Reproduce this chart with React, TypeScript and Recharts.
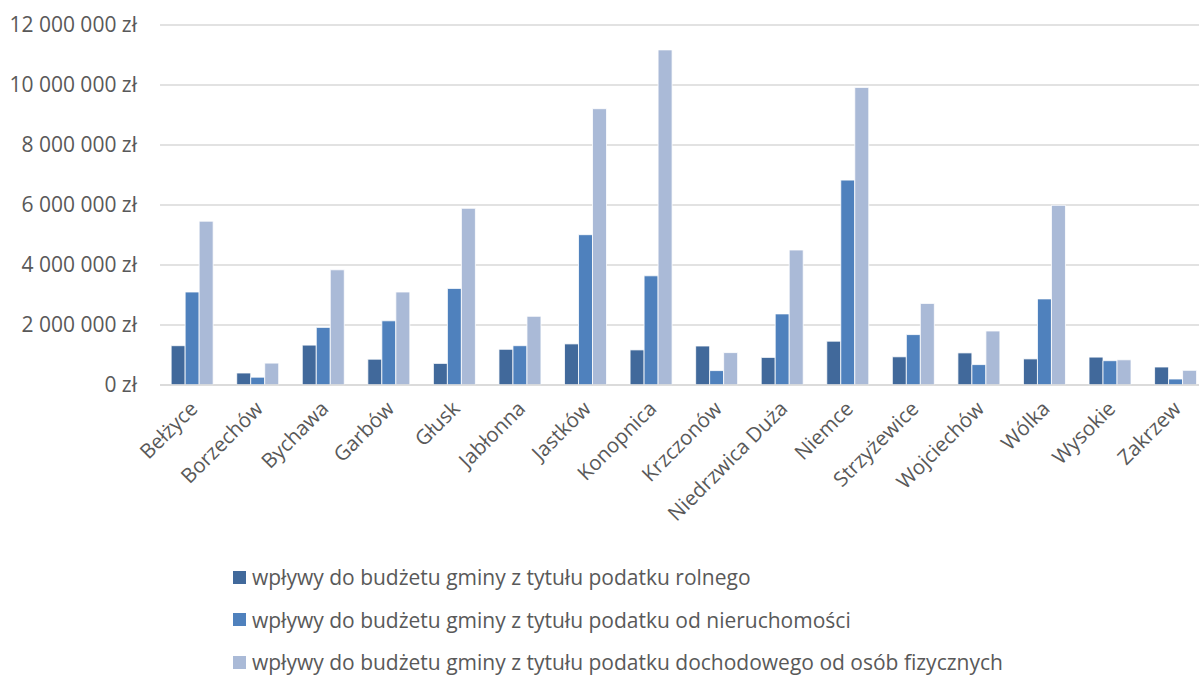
import React from 'react';
import { BarChart, Bar, XAxis, YAxis, CartesianGrid } from 'recharts';

const gminy = [
  'Bełżyce', 'Borzechów', 'Bychawa', 'Garbów', 'Głusk', 'Jabłonna', 'Jastków', 'Konopnica',
  'Krzczonów', 'Niedrzwica Duża', 'Niemce', 'Strzyżewice', 'Wojciechów', 'Wólka', 'Wysokie', 'Zakrzew',
];

const rolny = [
  1310000, 400000, 1330000, 860000, 720000, 1190000, 1370000, 1170000,
  1300000, 920000, 1460000, 940000, 1070000, 870000, 930000, 600000,
];

const nieruchomosci = [
  3100000, 260000, 1920000, 2140000, 3220000, 1310000, 5010000, 3640000,
  480000, 2370000, 6830000, 1680000, 680000, 2870000, 810000, 200000,
];

const dochodowy = [
  5460000, 730000, 3840000, 3100000, 5890000, 2290000, 9210000, 11170000,
  1080000, 4500000, 9920000, 2720000, 1800000, 5990000, 840000, 490000,
];

const yTicks = [0, 2000000, 4000000, 6000000, 8000000, 10000000, 12000000];

const series = [
  { key: 'rolny', name: 'wpływy do budżetu gminy z tytułu podatku rolnego', color: '#41699B' },
  { key: 'nieruchomosci', name: 'wpływy do budżetu gminy z tytułu podatku od nieruchomości', color: '#4F81BD' },
  { key: 'dochodowy', name: 'wpływy do budżetu gminy z tytułu podatku dochodowego od osób fizycznych', color: '#AABAD7' },
];

const data = gminy.map((name, i) => ({
  name,
  rolny: rolny[i],
  nieruchomosci: nieruchomosci[i],
  dochodowy: dochodowy[i],
}));

const FONT = '"Open Sans", Lato, sans-serif';
const TEXT = '#595959';

const formatZl = (v: number) =>
  v.toString().replace(/\B(?=(\d{3})+(?!\d))/g, ' ') + ' zł';

const CategoryTick = (props: any) => {
  const { x, y, payload } = props;
  const ax = x + 6;
  const ay = y + 17;
  return (
    <text
      x={ax}
      y={ay}
      transform={`rotate(-45, ${ax}, ${ay})`}
      textAnchor="end"
      fill={TEXT}
      fontSize={20.5}
      fontFamily={FONT}
    >
      {payload.value}
    </text>
  );
};

export default function App() {
  return (
    <div
      style={{
        position: 'absolute',
        left: 0,
        top: 0,
        width: 1199,
        height: 677,
        overflow: 'hidden',
        background: '#fff',
      }}
    >
      <BarChart
        width={1215}
        height={677}
        data={data}
        margin={{ top: 25, right: 6, bottom: 0, left: 0 }}
        barCategoryGap="17%"
        barGap={0}
      >
        <CartesianGrid vertical={false} stroke="#D9D9D9" strokeWidth={1.5} />
        <XAxis
          dataKey="name"
          height={292}
          interval={0}
          tickLine={false}
          axisLine={{ stroke: '#D9D9D9', strokeWidth: 1.5 }}
          tick={<CategoryTick />}
        />
        <YAxis
          width={160}
          domain={[0, 12000000]}
          ticks={yTicks}
          tickFormatter={formatZl}
          axisLine={false}
          tickLine={false}
          tickSize={0}
          tickMargin={23}
          tick={{ fill: TEXT, fontSize: 21, fontFamily: FONT }}
        />
        {series.map((s) => (
          <Bar
            key={s.key}
            dataKey={s.key}
            name={s.name}
            fill={s.color}
            stroke="#ffffff"
            strokeWidth={0.8}
            isAnimationActive={false}
          />
        ))}
      </BarChart>
      <div style={{ position: 'absolute', left: 233, top: 556, fontFamily: FONT, color: TEXT, fontSize: 21 }}>
        {series.map((s) => (
          <div key={s.key} style={{ display: 'flex', alignItems: 'center', height: 42.5, whiteSpace: 'nowrap' }}>
            <span style={{ display: 'inline-block', width: 13, height: 13, background: s.color, marginRight: 6 }} />
            <span>{s.name}</span>
          </div>
        ))}
      </div>
    </div>
  );
}
